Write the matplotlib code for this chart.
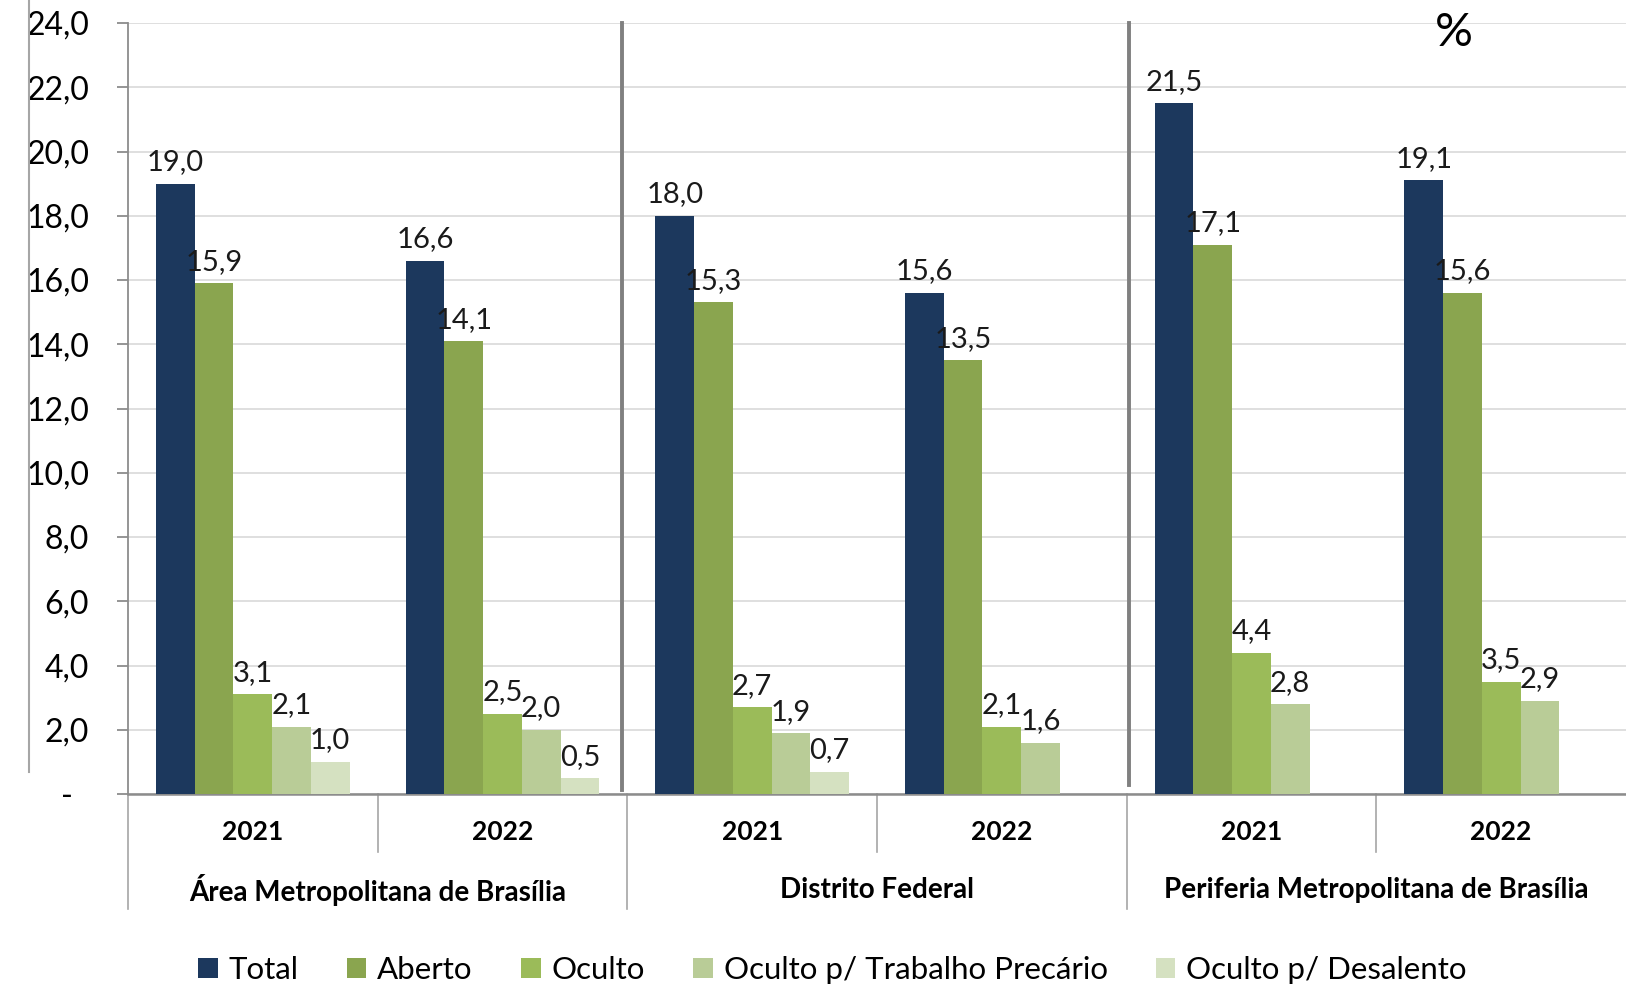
import numpy as np
import matplotlib

matplotlib.use("Agg")

import matplotlib.pyplot as plt
from matplotlib.lines import Line2D
from matplotlib.patches import Patch
from matplotlib.ticker import FuncFormatter

plt.rcParams["font.family"] = ["Lato", "DejaVu Sans"]

REGIONS = ["Área Metropolitana de Brasília", "Distrito Federal", "Periferia Metropolitana de Brasília"]
YEARS = ["2021", "2022"]
SERIES = ["Total", "Aberto", "Oculto", "Oculto p/ Trabalho Precário", "Oculto p/ Desalento"]

total = [19.0, 16.6, 18.0, 15.6, 21.5, 19.1]
aberto = [15.9, 14.1, 15.3, 13.5, 17.1, 15.6]
oculto = [3.1, 2.5, 2.7, 2.1, 4.4, 3.5]
precario = [2.1, 2.0, 1.9, 1.6, 2.8, 2.9]
desalento = [1.0, 0.5, 0.7, np.nan, np.nan, np.nan]

COLORS = ["#1C385D", "#8AA54F", "#9BBB59", "#B9CC97", "#D5E1C1"]


def fmt_br(v, _pos=None):
    if abs(v) < 1e-9:
        return "-  "
    return f"{v:.1f}".replace(".", ",")


fig = plt.figure(figsize=(16.26, 9.85), dpi=100)
ax = fig.add_axes([128 / 1626, 1 - 794 / 985, 1 - 128 / 1626, (794 - 23) / 985])

n_slots = len(REGIONS) * len(YEARS)
centers = np.arange(n_slots) + 0.5
width = 0.155
all_series = [total, aberto, oculto, precario, desalento]

for j, (vals, color) in enumerate(zip(all_series, COLORS)):
    xs = centers + (j - 2) * width
    ax.bar(xs, vals, width=width, color=color, edgecolor="none", zorder=3)
    for x, v in zip(xs, vals):
        if np.isnan(v):
            continue
        ax.annotate(fmt_br(v), (x, v), xytext=(0, 6), textcoords="offset points",
                    ha="center", va="bottom", fontsize=21, color="#1a1a1a", zorder=4)

ax.set_xlim(0, n_slots)
ax.set_ylim(0, 24)
ax.set_yticks(np.arange(0, 24.1, 2))
ax.yaxis.set_major_formatter(FuncFormatter(fmt_br))
ax.tick_params(axis="y", length=8, width=1.3, color="#8c8c8c", pad=20, labelsize=23)
ax.set_xticks([])
ax.grid(axis="y", color="#d9d9d9", linewidth=1.2, zorder=0)
ax.set_axisbelow(True)
for side in ["top", "right"]:
    ax.spines[side].set_visible(False)
ax.spines["left"].set_color("#8c8c8c")
ax.spines["left"].set_linewidth(1.3)
ax.spines["bottom"].set_color("#8c8c8c")
ax.spines["bottom"].set_linewidth(1.8)

# multi-level category axis
trans = ax.get_xaxis_transform()
for i, c in enumerate(centers):
    ax.text(c, -0.049, YEARS[i % len(YEARS)], transform=trans, ha="center", va="center",
            fontsize=19, fontweight="bold")
for g, region in enumerate(REGIONS):
    mid = g * len(YEARS) + len(YEARS) / 2
    ax.text(mid, -0.125, region, transform=trans, ha="center", va="center",
            fontsize=20, fontweight="bold")
for k in range(n_slots):
    bottom = -0.149 if k % len(YEARS) == 0 else -0.075
    ax.plot([k, k], [0, bottom], transform=trans, color="#a6a6a6", linewidth=1.2, clip_on=False)

# heavy separators between regions
ax.plot([1.98, 1.98], [0.12, 24], color="#808080", linewidth=2.8, zorder=5, clip_on=False)
ax.plot([4.01, 4.01], [0.28, 24], color="#808080", linewidth=2.8, zorder=5, clip_on=False)

fig.add_artist(Line2D([29 / 1626, 29 / 1626], [1.0, 1 - 772 / 985], color="#a6a6a6", linewidth=1.5))

fig.text(1454 / 1626, 1 - 33 / 985, "%", ha="center", va="center", fontsize=34,
         family=["Lato", "DejaVu Sans"])

handles = [Patch(facecolor=c, edgecolor="none") for c in COLORS]
fig.legend(handles, SERIES, loc="center", bbox_to_anchor=(0.512, 0.015), ncol=5, frameon=False,
           fontsize=22.5, handlelength=0.62, handleheight=0.62, handletextpad=0.35,
           columnspacing=1.55, borderaxespad=0)

fig.savefig("out.png", dpi=100)
